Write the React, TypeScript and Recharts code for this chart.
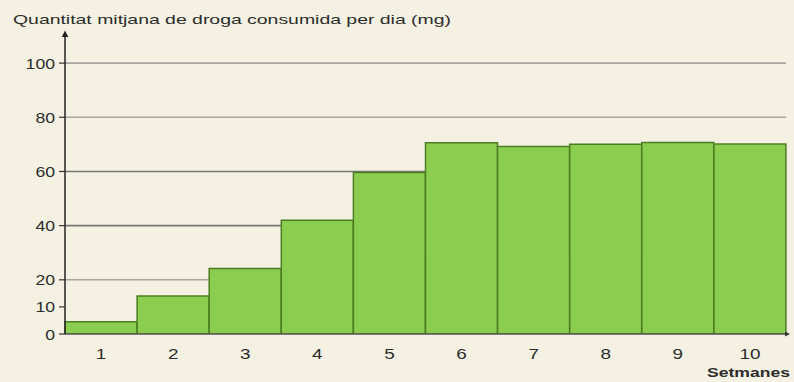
import React from 'react';
import { BarChart, Bar, XAxis, YAxis, ReferenceLine, Label, CartesianGrid } from 'recharts';

const weeks = ['1', '2', '3', '4', '5', '6', '7', '8', '9', '10'];
const mgPerDay = [4.5, 14, 24.2, 42, 59.6, 70.6, 69.2, 70, 70.7, 70.1];
const yTicks = [0, 10, 20, 40, 60, 80, 100];
const yDomainMax = 110;
const gridLight = [20, 80, 100];
const gridDark = [40, 60];
const weekEdges = [0, 1, 2, 3, 4, 5, 6, 7, 8, 9, 10];
const titleText = 'Quantitat mitjana de droga consumida per dia (mg)';
const xAxisTitle = 'Setmanes';

const data = weeks.map((w, i) => ({ week: w, mg: mgPerDay[i] }));

const FONT = '"Liberation Sans", Arial, sans-serif';
const TEXT = '#2c2c2c';

const YTick = (props: any) => {
  const { x, y, payload } = props;
  const s = String(payload.value);
  return (
    <text x={x} y={y} textAnchor="end" dominantBaseline="central" fontFamily={FONT} fontSize={15}
      fill={TEXT} textLength={s.length * 9.8} lengthAdjust="spacingAndGlyphs">{s}</text>
  );
};

const XTick = (props: any) => {
  const { x, y, payload } = props;
  const s = String(payload.value);
  return (
    <text x={x} y={y + 19} textAnchor="middle" dominantBaseline="central" fontFamily={FONT} fontSize={15}
      fill={TEXT} textLength={s.length * 10.5} lengthAdjust="spacingAndGlyphs">{s}</text>
  );
};

const EmptyTick = () => <g />;

const gridGen = (values: number[]) => (p: any) => {
  const scale = p?.yAxis?.scale;
  if (typeof scale === 'function') return values.map((v) => scale(v));
  if (scale && typeof scale.map === 'function') return values.map((v) => scale.map(v));
  const off = p?.offset;
  if (!off) return [];
  return values.map((v) => off.top + off.height * (1 - v / yDomainMax));
};

export default function App() {
  return (
    <div style={{ position: 'absolute', left: 0, top: 0, width: 794, height: 382, background: '#f4f1e3' }}>
      <BarChart width={794} height={382} data={data} margin={{ top: 36, right: 8, bottom: 0, left: 0 }}
        barCategoryGap={0} barGap={0}>
        <defs>
          <marker id="arrowUp" viewBox="0 0 10 10" refX="2" refY="5" markerWidth="7" markerHeight="7"
            markerUnits="userSpaceOnUse" orient="auto-start-reverse">
            <path d="M0,0 L10,5 L0,10 z" fill="#222" />
          </marker>
          <marker id="arrowRight" viewBox="0 0 10 10" refX="2" refY="5" markerWidth="5" markerHeight="5"
            markerUnits="userSpaceOnUse" orient="auto">
            <path d="M0,0 L10,5 L0,10 z" fill="#333" />
          </marker>
        </defs>
        <CartesianGrid vertical={false} horizontalCoordinatesGenerator={gridGen(gridLight)}
          stroke="#a8a6a0" strokeWidth={1.6} strokeDasharray="" />
        <CartesianGrid vertical={false} horizontalCoordinatesGenerator={gridGen(gridDark)}
          stroke="#767672" strokeWidth={1.6} strokeDasharray="" />
        <XAxis xAxisId="edges" type="number" domain={[0, 10]} ticks={weekEdges} height={0}
          tick={EmptyTick} tickSize={8} tickLine={{ stroke: '#555', strokeWidth: 1.5 }} axisLine={false}
          allowDataOverflow interval={0} />
        <XAxis dataKey="week" height={48} tickLine={false} tickSize={0} tickMargin={0}
          axisLine={{ stroke: '#555', strokeWidth: 1.5, markerEnd: 'url(#arrowRight)' }}
          tick={XTick} interval={0}>
          <Label content={(p: any) => {
            const vb = p.viewBox;
            return (
              <text x={vb.x + vb.width + 4} y={vb.y + 38} textAnchor="end" dominantBaseline="central"
                fontFamily={FONT} fontSize={13} fontWeight="bold" fill={TEXT}
                textLength={83} lengthAdjust="spacingAndGlyphs">{xAxisTitle}</text>
            );
          }} />
        </XAxis>
        <YAxis width={65} domain={[0, yDomainMax]} ticks={yTicks} interval={0} allowDataOverflow
          tick={YTick} tickSize={6} tickMargin={4} tickLine={{ stroke: '#333', strokeWidth: 1.2 }}
          axisLine={{ stroke: '#222', strokeWidth: 1.5, markerStart: 'url(#arrowUp)' }}>
          <Label content={(p: any) => {
            const vb = p.viewBox;
            return (
              <text x={13} y={vb.y - 17} textAnchor="start" dominantBaseline="central"
                fontFamily={FONT} fontSize={13} fill={TEXT}
                textLength={438} lengthAdjust="spacingAndGlyphs">{titleText}</text>
            );
          }} />
        </YAxis>
        <ReferenceLine xAxisId="edges" segment={[{ x: 10, y: 0 }, { x: 10, y: 100 }]}
          stroke="#b8b6b0" strokeWidth={1.5} />
        <Bar dataKey="mg" fill="#8bcd4f" stroke="#4d7d23" strokeWidth={1.5} isAnimationActive={false} />
      </BarChart>
    </div>
  );
}
